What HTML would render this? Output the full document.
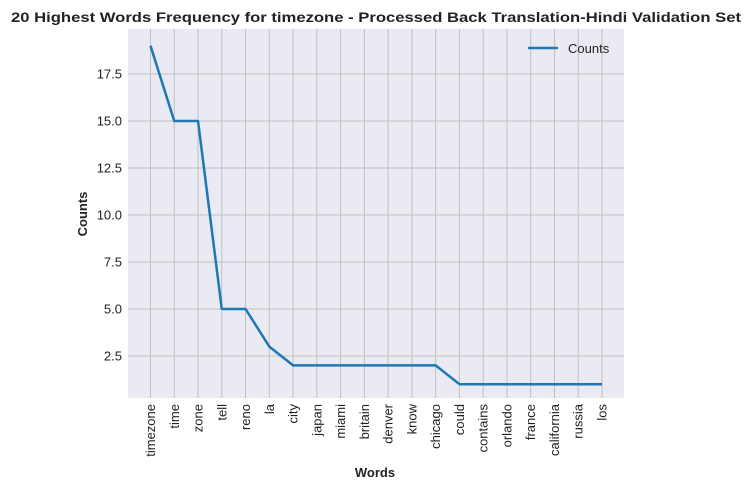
<!DOCTYPE html>
<html><head><meta charset="utf-8"><style>
body{margin:0;background:#fff;font-family:"Liberation Sans",Arial,sans-serif;}
svg text{font-family:"Liberation Sans",Arial,sans-serif;}
</style></head><body>
<svg id="chart" width="751" height="490" xmlns="http://www.w3.org/2000/svg">
<text x="376" y="22" text-anchor="middle" font-size="14" font-weight="bold" fill="#222" textLength="730" lengthAdjust="spacingAndGlyphs">20 Highest Words Frequency for timezone - Processed Back Translation-Hindi Validation Set</text>
<rect x="128" y="29" width="496" height="369" fill="#eaeaf2"/>
<g id="grid"></g><g id="ticks"></g>
<path id="line" fill="none" stroke="#1f77b4" stroke-width="2.5" stroke-linejoin="round"/>
<text x="375" y="477" text-anchor="middle" font-size="13" font-weight="bold" fill="#222">Words</text>
<text transform="translate(87,214) rotate(-90)" text-anchor="middle" font-size="13" font-weight="bold" fill="#222">Counts</text>
<g>
<line x1="528" y1="48" x2="558" y2="48" stroke="#1f77b4" stroke-width="2.5"/>
<text x="568" y="53" font-size="13" fill="#222">Counts</text>
</g>
</svg>
<script>
const words=["timezone","time","zone","tell","reno","la","city","japan","miami","britain","denver","know","chicago","could","contains","orlando","france","california","russia","los"];
const counts=[19,15,15,5,5,3,2,2,2,2,2,2,2,1,1,1,1,1,1,1];
const yTicks=[2.5,5.0,7.5,10.0,12.5,15.0,17.5];
const NS="http://www.w3.org/2000/svg";
const x=i=>150.5+i*(602-150.5)/(words.length-1);
const y=v=>121-(v-15)*18.8;
const grid=document.getElementById('grid'),ticks=document.getElementById('ticks');
function mk(t,a,p){const e=document.createElementNS(NS,t);for(const k in a)e.setAttribute(k,a[k]);p.appendChild(e);return e;}
yTicks.forEach(v=>{
 const l=mk('line',{x1:128,x2:624,y1:y(v),y2:y(v),stroke:'#c0c0c0','stroke-width':1},grid);
 
 
 const t=mk('text',{x:122,y:y(v)+4.5,'text-anchor':'end','font-size':13,fill:'#222'},ticks);
 t.textContent=v.toFixed(1);
 
 
});
words.forEach((w,i)=>{
 const l=mk('line',{x1:x(i),x2:x(i),y1:29,y2:398,stroke:'#c0c0c0','stroke-width':1},grid);
 
 
 const t=mk('text',{transform:`translate(${x(i)+4.5},404) rotate(-90)`,'text-anchor':'end','font-size':13,fill:'#222'},ticks);
 t.textContent=w;
 
 
});
document.getElementById('line').setAttribute('d',counts.map((c,i)=>(i?'L':'M')+x(i)+','+y(c)).join(' '));
</script>
</body></html>
